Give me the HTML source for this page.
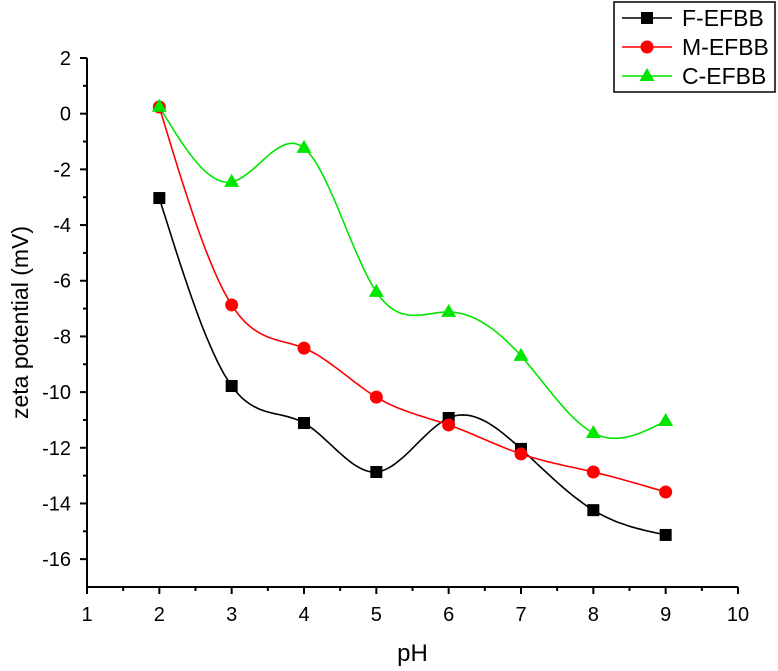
<!DOCTYPE html>
<html><head><meta charset="utf-8"><style>
html,body{margin:0;padding:0;background:#fff;}
svg{display:block;font-family:"Liberation Sans",Arial,sans-serif;}
</style></head><body>
<svg id="chart" width="778" height="671" viewBox="0 0 778 671"></svg>
<script>
const categories=[2,3,4,5,6,7,8,9];
const fValues=[-3.03,-9.78,-11.11,-12.87,-10.93,-12.04,-14.24,-15.13];
const mValues=[0.24,-6.87,-8.42,-10.18,-11.18,-12.22,-12.87,-13.59];
const cValues=[0.25,-2.45,-1.23,-6.4,-7.12,-8.7,-11.47,-11.04];
const xTicks=[1,2,3,4,5,6,7,8,9,10];
const yTicks=[-16,-14,-12,-10,-8,-6,-4,-2,0,2];
const seriesNames=["F-EFBB","M-EFBB","C-EFBB"];

const NS="http://www.w3.org/2000/svg";
const svg=document.getElementById('chart');
const X0=87,X1=738,Y0=587,Y1=58;
function xs(v){return X0+(v-1)*(X1-X0)/9;}
function ys(v){return Y1+(2-v)*(Y0-Y1)/19;}
function mk(t,a,p){const e=document.createElementNS(NS,t);for(const k in a)e.setAttribute(k,a[k]);(p||svg).appendChild(e);return e;}

let ax=mk('path',{d:`M${X0},${Y1}V${Y0}H${X1}`,fill:'none',stroke:'#000','stroke-width':2});


for(const t of yTicks){
  const y=ys(t);
  const l=mk('line',{x1:X0-7,x2:X0,y1:y,y2:y,stroke:'#000','stroke-width':2});
  
  
  const tx=mk('text',{x:X0-16,y:y+7,'text-anchor':'end','font-size':20});
  tx.textContent=t;
  
  
  if(t>-16){const m=mk('line',{x1:X0-4,x2:X0,y1:ys(t-1),y2:ys(t-1),stroke:'#000','stroke-width':2});
  
  }
}
for(const t of xTicks){
  const x=xs(t);
  const l=mk('line',{x1:x,x2:x,y1:Y0,y2:Y0+7,stroke:'#000','stroke-width':2});
  
  
  const tx=mk('text',{x:x,y:Y0+34,'text-anchor':'middle','font-size':20});
  tx.textContent=t;
  
  
  if(t<10){const m=mk('line',{x1:xs(t+0.5),x2:xs(t+0.5),y1:Y0,y2:Y0+4,stroke:'#000','stroke-width':2});
  
  }
}
let xt=mk('text',{x:(X0+X1)/2,y:661,'text-anchor':'middle','font-size':24});
xt.textContent='pH';


let yt=mk('text',{x:0,y:0,'text-anchor':'middle','font-size':23,transform:`translate(28,${(Y0+Y1)/2}) rotate(-90)`});
yt.textContent='zeta potential (mV)';



function spline(xsA,ysA){
  const n=xsA.length,h=[],al=[],l=[1],mu=[0],z=[0],c=new Array(n).fill(0),b=[],d=[];
  for(let i=0;i<n-1;i++)h.push(xsA[i+1]-xsA[i]);
  for(let i=1;i<n-1;i++)al[i]=3/h[i]*(ysA[i+1]-ysA[i])-3/h[i-1]*(ysA[i]-ysA[i-1]);
  for(let i=1;i<n-1;i++){l[i]=2*(xsA[i+1]-xsA[i-1])-h[i-1]*mu[i-1];mu[i]=h[i]/l[i];z[i]=(al[i]-h[i-1]*z[i-1])/l[i];}
  for(let j=n-2;j>=0;j--){c[j]=(z[j]||0)-mu[j]*c[j+1];b[j]=(ysA[j+1]-ysA[j])/h[j]-h[j]*(c[j+1]+2*c[j])/3;d[j]=(c[j+1]-c[j])/(3*h[j]);}
  const pts=[];
  for(let i=0;i<n-1;i++)for(let k=0;k<20;k++){const t=k/20*h[i];pts.push([xsA[i]+t,ysA[i]+b[i]*t+c[i]*t*t+d[i]*t*t*t]);}
  pts.push([xsA[n-1],ysA[n-1]]);
  return pts;
}
const colors=['#000','#ff0000','#00e600'];
const all=[fValues,mValues,cValues];
const keys=['f-efbb','m-efbb','c-efbb'];
all.forEach((vals,si)=>{
  const p=spline(categories,vals);
  const line=mk('path',{d:'M'+p.map(q=>xs(q[0]).toFixed(1)+','+ys(q[1]).toFixed(1)).join('L'),fill:'none',stroke:colors[si],'stroke-width':1.6});
  
  
});
function marker(si,x,y,g){
  let e;
  if(si===0)e=mk('rect',{x:x-6,y:y-6,width:12,height:12,fill:'#000'},g);
  else if(si===1)e=mk('circle',{cx:x,cy:y,r:6.5,fill:'#ff0000'},g);
  else e=mk('path',{d:`M${x},${y-8}L${x+7.5},${y+5}L${x-7.5},${y+5}Z`,fill:'#00e600'},g);
  return e;
}
all.forEach((vals,si)=>{
  vals.forEach((v,i)=>{
    const m=marker(si,xs(categories[i]),ys(v));
    
    
  });
});

const lg=mk('g',{});


mk('rect',{x:614,y:2,width:161,height:90,fill:'#fff',stroke:'#000','stroke-width':1.5},lg);
seriesNames.forEach((nm,si)=>{
  const y=18+si*29;
  const ln=mk('line',{x1:622,x2:672,y1:y,y2:y,stroke:colors[si],'stroke-width':1.5},lg);
  
  
  const m=marker(si,647,y,lg);
  
  
  const t=mk('text',{x:682,y:y+8,'font-size':23},lg);
  t.textContent=nm;
  
  
});
</script>
</body></html>
